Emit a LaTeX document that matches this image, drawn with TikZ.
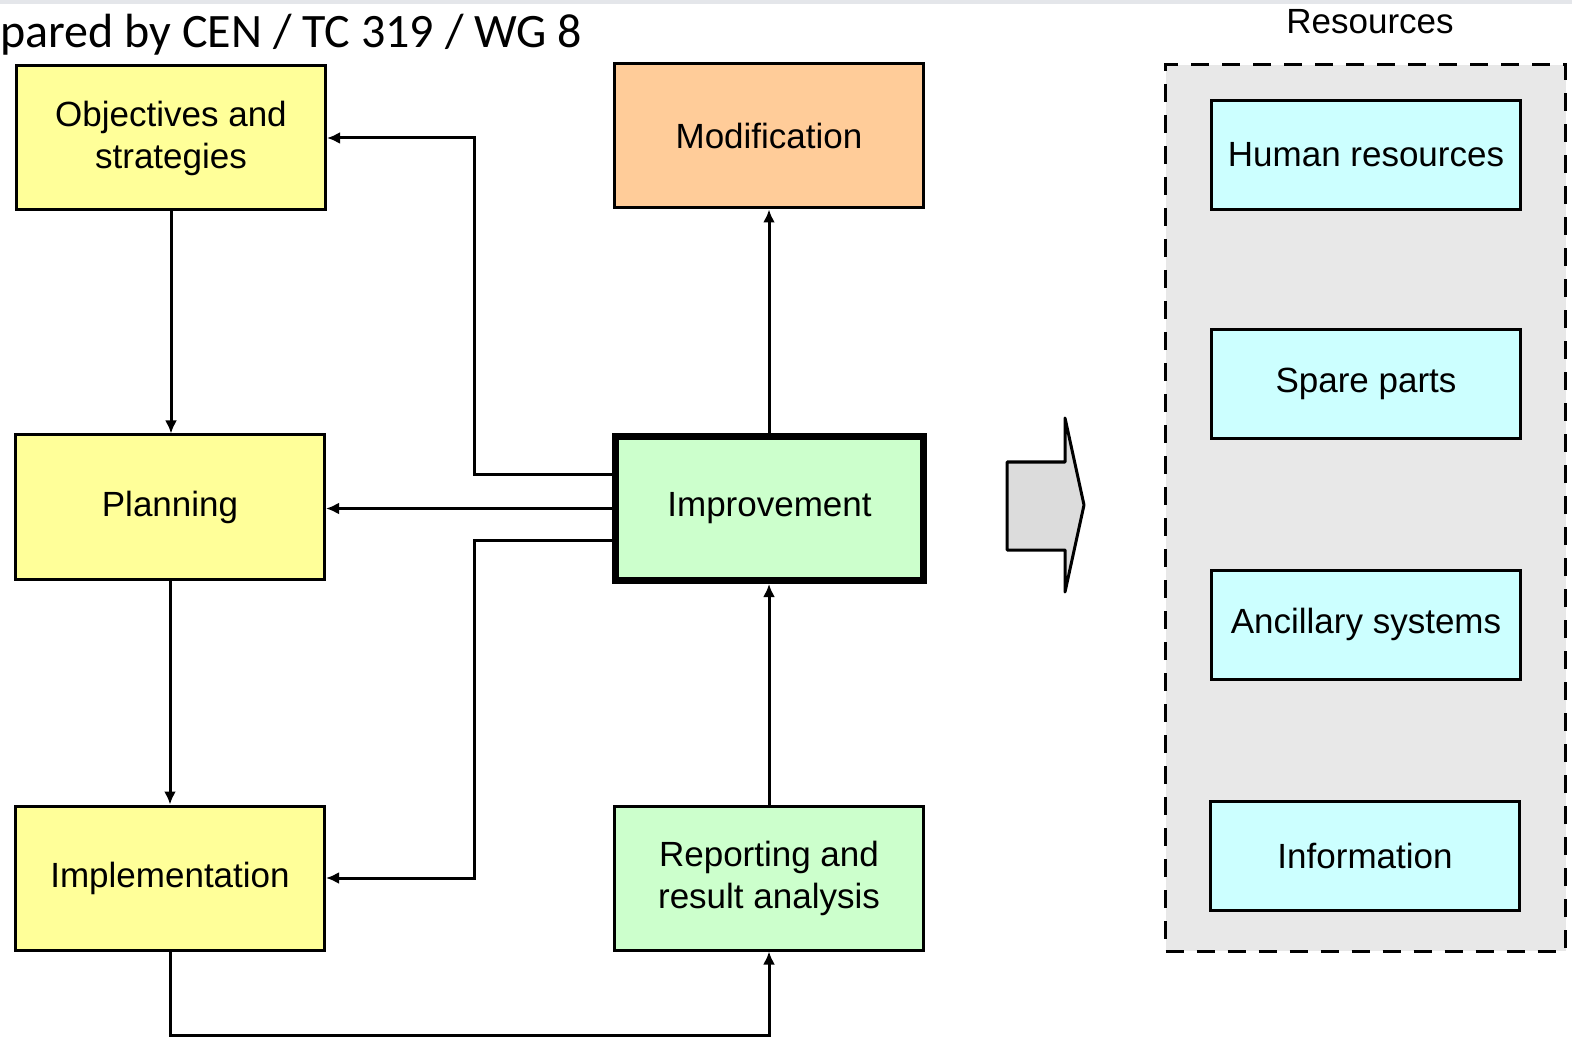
\documentclass[tikz,border=0pt]{standalone}
\usepackage{fontspec}
\setmainfont{Liberation Sans}
\newfontfamily\titlefont{Carlito}
\usepackage{xcolor}
\definecolor{phasefill}{RGB}{255,255,153}
\definecolor{greenfill}{RGB}{204,255,204}
\definecolor{orangefill}{RGB}{255,204,153}
\definecolor{cyanfill}{RGB}{204,255,255}
\definecolor{poolfill}{RGB}{232,232,232}
\definecolor{blockfill}{RGB}{220,220,220}
\definecolor{stripfill}{RGB}{228,230,234}
\usepackage{tikz}
\usetikzlibrary{positioning, arrows.meta}
\tikzstyle{box} = [
    rectangle, text centered, align=center,
    draw, line width=1.5pt,
    inner sep=0pt,
    minimum width=154.5pt,
    minimum height=72pt,
    font=\fontsize{17.5}{21}\selectfont,
]
\tikzstyle{phase} = [
    box,
    fill=phasefill,
]
\tikzstyle{result} = [
    box,
    fill=greenfill,
]
\tikzstyle{change} = [
    box,
    fill=orangefill,
]
\tikzstyle{improve} = [
    box,
    fill=greenfill,
    line width=3.5pt,
    minimum width=154pt,
    minimum height=72pt,
]
\tikzstyle{resource} = [
    box,
    fill=cyanfill,
    minimum height=54.5pt,
]
\tikzstyle{arrow} = [->, >={Latex[length=6.5pt,width=6pt]}, line width=1.5pt]

\begin{document}
\begin{tikzpicture}[x=0.5pt, y=-0.5pt]
    \useasboundingbox (0,0) rectangle (1572,1042);
    \fill[stripfill] (0,0) rectangle (1572,4);

    % title and resources pool
    \node (title) at (0,48) [anchor=base west, inner sep=0pt,
        font=\titlefont\fontsize{24}{28}\selectfont] {pared by CEN / TC 319 / WG 8};
    \node (pool) at (1365.5,508) [draw, dashed, dash pattern=on 9pt off 6.5pt,
        line width=1.5pt, fill=poolfill, minimum width=200pt, minimum height=443pt] {};
    \node (pooltitle) at (1370,34) [anchor=base,
        font=\fontsize{17.5}{21}\selectfont] {Resources};

    % boxes
    \node (obj) at (171,138) [phase] {Objectives and\\strategies};
    \node (plan) at (170,507) [phase] {Planning};
    \node (impl) at (170,878) [phase] {Implementation};
    \node (modif) at (769,136) [change] {Modification};
    \node (improve) at (769.5,508.5) [improve] {Improvement};
    \node (report) at (769,878) [result] {Reporting and\\result analysis};

    \node (human) at (1366,155) [resource] {Human resources};
    \node (spare) at (1366,384) [resource] {Spare parts};
    \node (ancillary) at (1366,624.5) [resource] {Ancillary systems};
    \node (info) at (1365,856) [resource] {Information};

    % block arrow
    \draw[line width=1.5pt, fill=blockfill, line join=round]
        (1007,462) -- (1065,462) -- (1065,418) -- (1084,505)
        -- (1065,592) -- (1065,550) -- (1007,550) -- cycle;

    % arrows
    \coordinate (split) at (474,508);
    \draw [arrow] (obj.south) to (obj.south |- plan.north);
    \draw [arrow] (plan.south) to (impl.north);
    \draw [arrow] (improve.west) to (improve.west -| plan.east);
    \draw [arrow] ([yshift=17pt]improve.west) -- ([yshift=17pt]improve.west -| split) |- (obj.east);
    \draw [arrow] ([yshift=-16pt]improve.west) -- ([yshift=-16pt]improve.west -| split) |- (impl.east);
    \draw [arrow] (improve.north -| modif.south) to (modif.south);
    \draw [arrow] (report.north) to (report.north |- improve.south);
    \draw [arrow] (impl.south) -- ++(0,84) -| (report.south);

\end{tikzpicture}
\end{document}
